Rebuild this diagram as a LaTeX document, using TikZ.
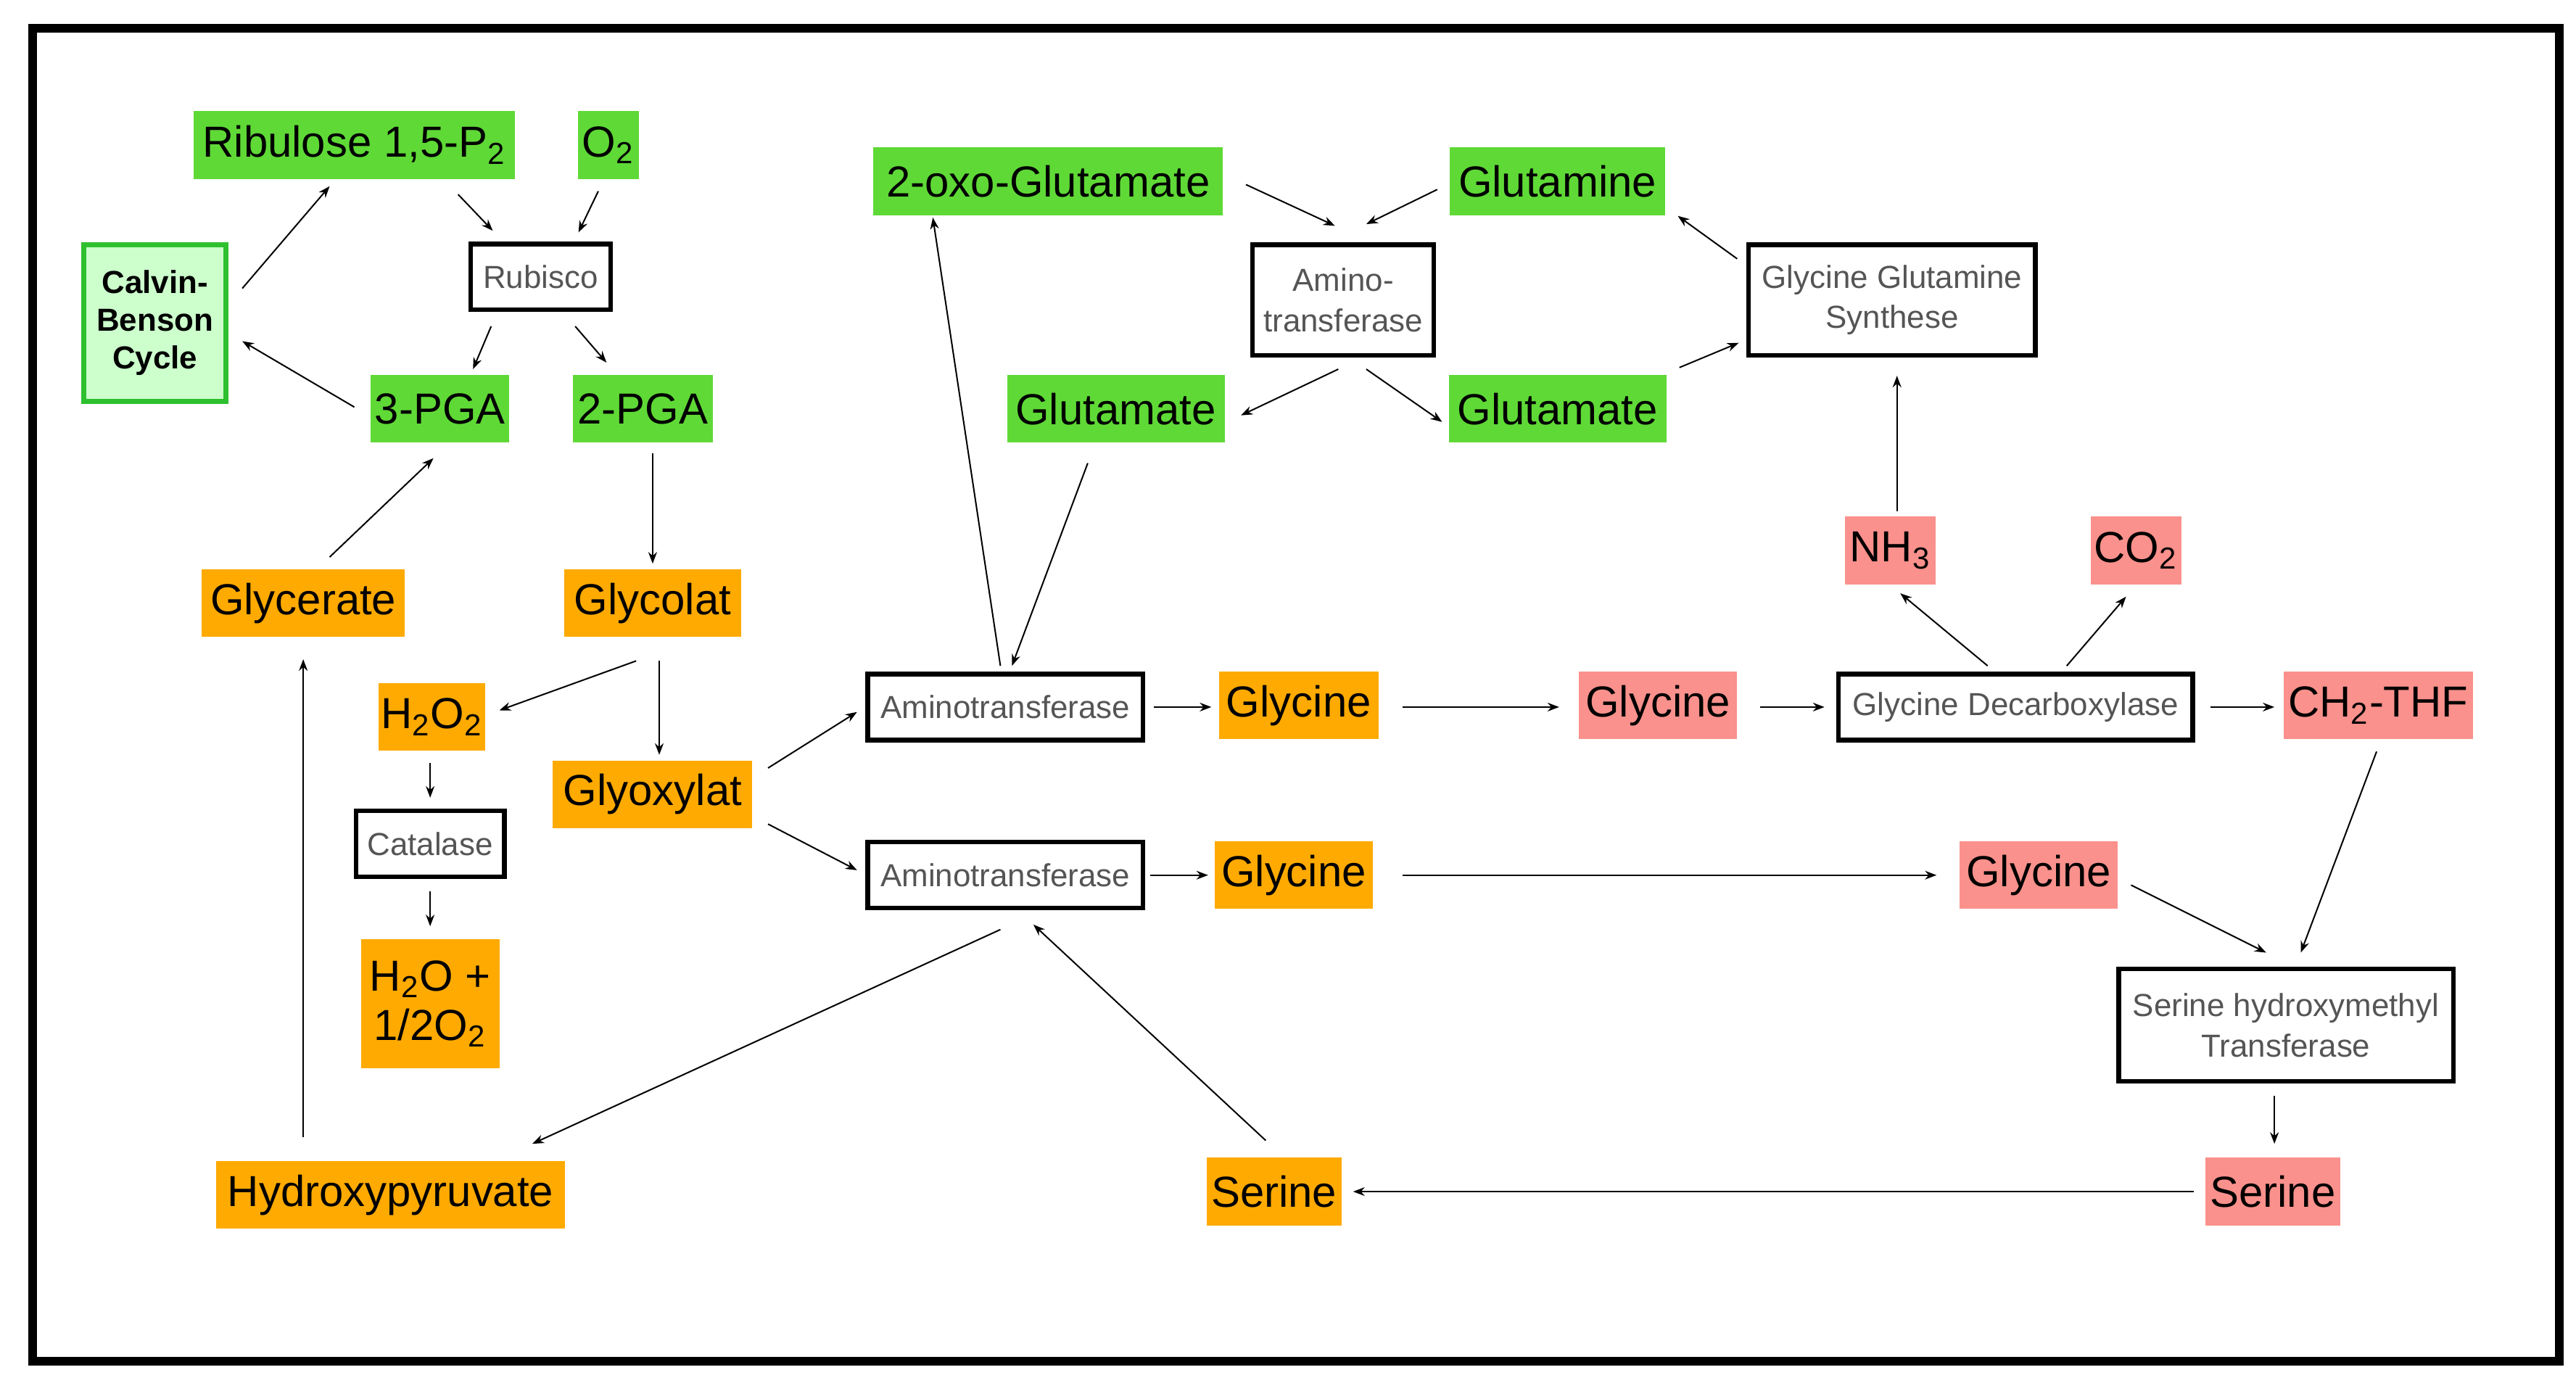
\documentclass[tikz,border=0pt]{standalone}
\usepackage{fontspec}
\setmainfont{Liberation Sans}
\usetikzlibrary{arrows.meta}
\definecolor{gr}{HTML}{5FD936}
\definecolor{og}{HTML}{FFAA00}
\definecolor{pk}{HTML}{FA918C}
\definecolor{lg}{HTML}{CCFFCC}
\definecolor{dg}{HTML}{2EC02E}
\definecolor{tx}{HTML}{555555}
\begin{document}
\begin{tikzpicture}[x=0.02cm,y=-0.02cm,
 W/.style={minimum width=#1*0.02cm},
 H/.style={minimum height=#1*0.02cm},
 base/.style={inner sep=0pt,outer sep=0pt,align=center,font=\fontsize{15}{17}\selectfont},
 g/.style={base,fill=gr,H=41},
 o/.style={base,fill=og,H=41},
 p/.style={base,fill=pk,H=41},
 b/.style={base,draw=black,line width=1.6pt,fill=white,text=tx,font=\fontsize{11}{14}\selectfont,H=40},
 ar/.style={-{Stealth[length=4pt,width=3pt]},line width=0.5pt}]
\useasboundingbox (0,0) rectangle (1563,839);
\fill[white] (0,0) rectangle (1563,839);
\draw[line width=3pt] (20,17) rectangle (1553,826);
\node[g,W=195] (rib) at (215,88) {Ribulose 1,5-P\textsubscript{2}};
\node[g,W=37] (o2) at (369,88) {O\textsubscript{2}};
\node[base,fill=lg,draw=dg,line width=1.8pt,W=86,H=95,font=\bfseries\fontsize{11}{13}\selectfont] (cbc) at (94,196) {Calvin-\\Benson\\Cycle};
\node[b,W=85] (rub) at (328,168) {Rubisco};
\node[g,W=84] (pga3) at (267,248) {3-PGA};
\node[g,W=85] (pga2) at (390,248) {2-PGA};
\node[o,W=123] (glyc) at (184,366) {Glycerate};
\node[o,W=107] (glycol) at (396,366) {Glycolat};
\node[o,W=65] (h2o2) at (262,435) {H\textsubscript{2}O\textsubscript{2}};
\node[b,W=90] (cat) at (261,512) {Catalase};
\node[o,W=84,H=78] (h2o) at (261,609) {H\textsubscript{2}O +\\1/2O\textsubscript{2}};
\node[o,W=121] (glyox) at (396,482) {Glyoxylat};
\node[o,W=212] (hp) at (237,725) {Hydroxypyruvate};
\node[g,W=212] (oxo) at (636,110) {2-oxo-Glutamate};
\node[b,W=110,H=67] (amt) at (815,182) {Amino-\\transferase};
\node[g,W=131] (gln) at (945,110) {Glutamine};
\node[g,W=132] (glul) at (677,248) {Glutamate};
\node[g,W=132] (glur) at (945,248) {Glutamate};
\node[b,W=174,H=67] (ggs) at (1148,182) {Glycine Glutamine\\Synthese};
\node[p,W=55] (nh3) at (1147,334) {NH\textsubscript{3}};
\node[p,W=55] (co2) at (1296,334) {CO\textsubscript{2}};
\node[b,W=167] (am1) at (610,429) {Aminotransferase};
\node[o,W=97] (gly1) at (788,428) {Glycine};
\node[p,W=96] (gly1p) at (1006,428) {Glycine};
\node[b,W=215] (gdc) at (1223,429) {Glycine Decarboxylase};
\node[p,W=115] (thf) at (1443,428) {CH\textsubscript{2}-THF};
\node[b,W=167] (am2) at (610,531) {Aminotransferase};
\node[o,W=96] (gly2) at (785,531) {Glycine};
\node[p,W=96] (gly2p) at (1237,531) {Glycine};
\node[b,W=203,H=68] (shmt) at (1387,622) {Serine hydroxymethyl\\Transferase};
\node[o,W=82] (ser) at (773,723) {Serine};
\node[p,W=82] (serp) at (1379,723) {Serine};
\draw[ar] (147,175) -- (200,113);
\draw[ar] (278,118) -- (299,140);
\draw[ar] (363,116) -- (351,141);
\draw[ar] (298,198) -- (287,224);
\draw[ar] (349,198) -- (368,220);
\draw[ar] (215,247) -- (147,207);
\draw[ar] (396,275) -- (396,342);
\draw[ar] (200,338) -- (263,278);
\draw[ar] (386,401) -- (303,431);
\draw[ar] (400,401) -- (400,458);
\draw[ar] (261,463) -- (261,484);
\draw[ar] (261,541) -- (261,562);
\draw[ar] (184,690) -- (184,400);
\draw[ar] (466,466) -- (520,432);
\draw[ar] (466,500) -- (520,528);
\draw[ar] (607,404) -- (566,132);
\draw[ar] (660,281) -- (614,404);
\draw[ar] (756,112) -- (810,137);
\draw[ar] (872,115) -- (829,136);
\draw[ar] (812,224) -- (753,252);
\draw[ar] (829,224) -- (875,256);
\draw[ar] (1019,223) -- (1055,208);
\draw[ar] (1054,157) -- (1018,131);
\draw[ar] (1151,310) -- (1151,228);
\draw[ar] (1206,404) -- (1153,360);
\draw[ar] (1254,404) -- (1290,362);
\draw[ar] (700,429) -- (735,429);
\draw[ar] (851,429) -- (946,429);
\draw[ar] (1068,429) -- (1107,429);
\draw[ar] (1341,429) -- (1380,429);
\draw[ar] (698,531) -- (733,531);
\draw[ar] (851,531) -- (1175,531);
\draw[ar] (1293,537) -- (1375,578);
\draw[ar] (1442,456) -- (1396,578);
\draw[ar] (1380,665) -- (1380,694);
\draw[ar] (1331,723) -- (821,723);
\draw[ar] (768,692) -- (627,561);
\draw[ar] (607,564) -- (323,694);
\end{tikzpicture}
\end{document}
